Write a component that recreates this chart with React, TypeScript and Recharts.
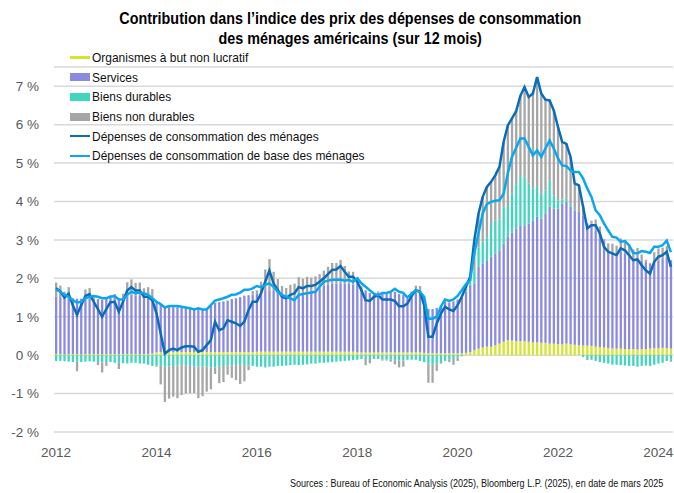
import React from 'react';
import { ComposedChart, Bar, Line, XAxis, YAxis, CartesianGrid } from 'recharts';

// monthly, Jan 2012 to Apr 2024
const years = ['2012', '2013', '2014', '2015', '2016', '2017', '2018', '2019', '2020', '2021', '2022', '2023', '2024'];
const yTicks = [-2, -1, 0, 1, 2, 3, 4, 5, 6, 7];

const npish = [
  0.03, 0.03, 0.02, 0.03, 0.03, 0.03, 0.02, 0.03, 0.03, 0.03, 0.03, 0.02,
  0.03, 0.03, 0.03, 0.02, 0.03, 0.03, 0.03, 0.03, 0.02, 0.03, 0.03, 0.04,
  0.07, 0.08, 0.08, 0.08, 0.08, 0.08, 0.08, 0.08, 0.08, 0.08, 0.08, 0.08,
  0.08, 0.08, 0.08, 0.08, 0.08, 0.08, 0.08, 0.08, 0.08, 0.08, 0.08, 0.08,
  0.09, 0.09, 0.09, 0.09, 0.09, 0.09, 0.09, 0.09, 0.09, 0.09, 0.09, 0.09,
  0.09, 0.09, 0.09, 0.09, 0.09, 0.09, 0.09, 0.09, 0.09, 0.09, 0.09, 0.09,
  0.07, 0.07, 0.07, 0.07, 0.07, 0.07, 0.07, 0.07, 0.07, 0.07, 0.07, 0.07,
  0.07, 0.07, 0.07, 0.07, 0.06, 0.05, 0.05, 0.05, 0.05, 0.05, 0.05, 0.05,
  0.05, 0.05, 0.06, 0.08, 0.13, 0.17, 0.2, 0.22, 0.22, 0.26, 0.3, 0.35,
  0.39, 0.38, 0.36, 0.36, 0.36, 0.35, 0.33, 0.33, 0.32, 0.32, 0.3, 0.3,
  0.29, 0.28, 0.3, 0.28, 0.27, 0.26, 0.25, 0.25, 0.24, 0.22, 0.21, 0.2,
  0.18, 0.17, 0.17, 0.17, 0.16, 0.16, 0.16, 0.15, 0.16, 0.16, 0.17, 0.18,
  0.18, 0.19, 0.18, 0.17,
];

const services = [
  1.5, 1.48, 1.47, 1.46, 1.45, 1.44, 1.45, 1.46, 1.45, 1.44, 1.43, 1.42,
  1.45, 1.47, 1.48, 1.46, 1.45, 1.5, 1.55, 1.53, 1.52, 1.52, 1.5, 1.45,
  1.32, 1.25, 1.18, 1.18, 1.17, 1.17, 1.16, 1.15, 1.14, 1.13, 1.13, 1.12,
  1.13, 1.2, 1.28, 1.3, 1.32, 1.34, 1.38, 1.4, 1.43, 1.47, 1.48, 1.5,
  1.52, 1.55, 1.58, 1.6, 1.6, 1.55, 1.5, 1.47, 1.45, 1.42, 1.5, 1.52,
  1.55, 1.57, 1.58, 1.65, 1.72, 1.75, 1.77, 1.78, 1.78, 1.76, 1.77, 1.75,
  1.78, 1.7, 1.62, 1.55, 1.5, 1.48, 1.52, 1.52, 1.55, 1.58, 1.52, 1.5,
  1.4, 1.48, 1.55, 1.52, 1.42, 1.15, 1.15, 1.18, 1.25, 1.35, 1.32, 1.35,
  1.4, 1.5, 1.6, 1.72, 1.73, 2.13, 2.19, 2.25, 2.34, 2.39, 2.43, 2.55,
  2.69, 2.82, 2.94, 3.02, 3.02, 3.08, 3.18, 3.27, 3.23, 3.37, 3.56, 3.52,
  3.53, 3.67, 3.69, 3.58, 3.5, 3.47, 3.39, 3.18, 3.19, 3.03, 2.96, 2.79,
  2.51, 2.48, 2.39, 2.52, 2.49, 2.4, 2.36, 2.35, 2.31, 2.27, 2.22, 2.29,
  2.29, 2.31, 2.38, 2.3,
];

const durables = [
  -0.15, -0.15, -0.16, -0.17, -0.18, -0.17, -0.18, -0.17, -0.16, -0.17, -0.18, -0.19,
  -0.18, -0.18, -0.2, -0.2, -0.21, -0.22, -0.2, -0.2, -0.22, -0.22, -0.25, -0.28,
  -0.28, -0.28, -0.3, -0.3, -0.28, -0.27, -0.26, -0.27, -0.28, -0.3, -0.3, -0.3,
  -0.3, -0.32, -0.32, -0.3, -0.28, -0.27, -0.27, -0.26, -0.25, -0.26, -0.27, -0.28,
  -0.3, -0.3, -0.32, -0.3, -0.3, -0.28, -0.28, -0.27, -0.26, -0.25, -0.26, -0.25,
  -0.24, -0.22, -0.22, -0.2, -0.2, -0.19, -0.18, -0.17, -0.16, -0.15, -0.14, -0.13,
  -0.12, -0.1, -0.1, -0.1, -0.1, -0.1, -0.11, -0.12, -0.12, -0.13, -0.14, -0.14,
  -0.12, -0.12, -0.12, -0.15, -0.18, -0.22, -0.25, -0.22, -0.2, -0.15, -0.12, -0.1,
  -0.06, -0.02, 0.05, 0.1, 0.35, 0.5, 0.56, 0.6, 0.88, 0.86, 0.8, 0.95,
  0.8, 1.0, 1.15, 1.28, 1.26, 1.04, 0.83, 0.78, 0.65, 0.6, 0.68, 0.34,
  0.21, 0.1, 0.08, 0.05, 0.03, 0.0, -0.05, -0.08, -0.12, -0.15, -0.18, -0.2,
  -0.22, -0.25, -0.25, -0.26, -0.27, -0.28, -0.28, -0.3, -0.28, -0.27, -0.28, -0.25,
  -0.22, -0.2, -0.15, -0.12,
];

const nonDurables = [
  0.36, 0.3, 0.16, 0.28, 0.0, -0.25, 0.0, 0.22, 0.27, 0.09, -0.08, -0.26,
  -0.1, 0.06, 0.08, -0.16, 0.12, 0.37, 0.39, 0.32, 0.35, 0.19, 0.24, 0.23,
  -0.02, -0.48, -0.92, -0.83, -0.8, -0.85, -0.78, -0.73, -0.71, -0.69, -0.82, -0.77,
  -0.65, -0.57, -0.17, -0.43, -0.42, -0.24, -0.32, -0.39, -0.5, -0.42, -0.12, 0.09,
  0.08, 0.27, 0.56, 0.81, 0.48, 0.34, 0.21, 0.19, 0.29, 0.35, 0.44, 0.38,
  0.4, 0.36, 0.38, 0.37, 0.39, 0.46, 0.54, 0.53, 0.61, 0.47, 0.32, 0.33,
  0.18, 0.02, -0.16, -0.11, 0.05, 0.11, -0.03, -0.02, -0.05, -0.11, -0.18, -0.16,
  -0.01, 0.11, 0.19, 0.21, 0.0, -0.5, -0.47, -0.19, -0.02, 0.01, -0.06, -0.15,
  -0.09, -0.01, 0.07, 0.14, 0.78, 0.89, 1.17, 1.31, 1.07, 1.17, 1.37, 1.7,
  2.1, 1.96, 1.9, 2.09, 2.34, 2.25, 2.47, 2.86, 2.61, 2.36, 2.09, 2.21,
  1.91, 1.5, 1.43, 1.25, 0.67, 0.69, 0.27, -0.05, 0.07, 0.28, 0.18, 0.03,
  0.22, 0.25, 0.29, 0.35, 0.35, 0.32, 0.23, 0.29, 0.15, 0.05, 0.01, 0.21,
  0.31, 0.3, 0.28, -0.05,
];

const pce = [
  1.74, 1.66, 1.5, 1.6, 1.3, 1.05, 1.3, 1.54, 1.59, 1.39, 1.2, 1.0,
  1.2, 1.38, 1.39, 1.13, 1.39, 1.68, 1.77, 1.68, 1.68, 1.52, 1.52, 1.43,
  1.09, 0.57, 0.04, 0.13, 0.17, 0.13, 0.2, 0.23, 0.23, 0.22, 0.09, 0.13,
  0.26, 0.39, 0.87, 0.65, 0.7, 0.91, 0.87, 0.83, 0.76, 0.87, 1.17, 1.39,
  1.39, 1.61, 1.91, 2.2, 1.87, 1.7, 1.52, 1.48, 1.57, 1.61, 1.77, 1.74,
  1.8, 1.8, 1.83, 1.91, 2.0, 2.11, 2.22, 2.23, 2.32, 2.17, 2.04, 2.04,
  1.91, 1.69, 1.43, 1.41, 1.52, 1.56, 1.45, 1.45, 1.45, 1.41, 1.27, 1.27,
  1.34, 1.54, 1.69, 1.65, 1.3, 0.48, 0.48, 0.82, 1.08, 1.26, 1.19, 1.15,
  1.3, 1.52, 1.78, 2.04, 2.99, 3.69, 4.12, 4.38, 4.51, 4.68, 4.9, 5.55,
  5.98, 6.16, 6.35, 6.75, 6.98, 6.72, 6.81, 7.24, 6.81, 6.65, 6.63, 6.37,
  5.94, 5.55, 5.5, 5.16, 4.47, 4.42, 3.86, 3.3, 3.38, 3.38, 3.17, 2.82,
  2.69, 2.65, 2.6, 2.78, 2.73, 2.6, 2.47, 2.49, 2.34, 2.21, 2.12, 2.43,
  2.56, 2.6, 2.69, 2.3,
];

const corePce = [
  1.71, 1.65, 1.57, 1.52, 1.43, 1.37, 1.39, 1.48, 1.52, 1.54, 1.52, 1.48,
  1.48, 1.52, 1.54, 1.45, 1.45, 1.57, 1.65, 1.61, 1.63, 1.61, 1.57, 1.48,
  1.39, 1.33, 1.24, 1.28, 1.28, 1.28, 1.26, 1.24, 1.22, 1.19, 1.22, 1.19,
  1.19, 1.3, 1.42, 1.45, 1.48, 1.52, 1.57, 1.58, 1.63, 1.7, 1.7, 1.74,
  1.8, 1.77, 1.83, 1.87, 1.78, 1.65, 1.57, 1.52, 1.48, 1.43, 1.57, 1.59,
  1.61, 1.63, 1.65, 1.78, 1.91, 1.94, 1.96, 1.96, 1.97, 1.94, 1.96, 1.91,
  2.0, 1.87, 1.78, 1.69, 1.6, 1.56, 1.62, 1.62, 1.65, 1.73, 1.65, 1.62,
  1.5, 1.6, 1.69, 1.65, 1.52, 0.95, 0.95, 1.0, 1.26, 1.45, 1.41, 1.45,
  1.54, 1.69, 1.85, 1.95, 2.65, 3.17, 3.69, 3.93, 3.99, 4.02, 4.03, 4.2,
  4.73, 5.16, 5.4, 5.64, 5.64, 5.42, 5.2, 5.33, 5.16, 5.38, 5.59, 5.38,
  5.12, 4.94, 4.92, 4.81, 4.77, 4.77, 4.6, 4.34, 4.12, 3.77, 3.64, 3.43,
  3.25, 3.08, 3.06, 2.95, 2.97, 2.86, 2.66, 2.65, 2.71, 2.69, 2.66, 2.82,
  2.82, 2.86, 2.98, 2.68,
];

const months = pce.map((_, i) => `${years[Math.floor(i / 12)]}-${(i % 12) + 1}`);

const data = months.map((month, i) => ({
  month,
  npish: npish[i],
  services: services[i],
  durables: durables[i],
  nonDurables: nonDurables[i],
  pce: pce[i],
  corePce: corePce[i],
}));

const legendItems = [
  { label: 'Organismes à but non lucratif', color: '#d3e52f', h: 3 },
  { label: 'Services', color: '#8a8ae0', h: 8 },
  { label: 'Biens durables', color: '#3fd6bd', h: 8 },
  { label: 'Biens non durables', color: '#a6a6a6', h: 8 },
  { label: 'Dépenses de consommation des ménages', color: '#0b6cb9', h: 2.5 },
  { label: 'Dépenses de consommation de base des ménages', color: '#0aa7ee', h: 2.5 },
];

const tickStyle = { fontSize: 13.5, fill: '#595959', fontFamily: 'Liberation Sans, Arial, sans-serif' };

const App: React.FC = () => (
  <div style={{ position: 'absolute', left: 0, top: 0, width: 674, height: 493, background: '#fff', overflow: 'hidden' }}>
    <div
      style={{
        position: 'absolute', left: 0, top: 8, width: 700, textAlign: 'center',
        fontFamily: 'Liberation Sans, Arial, sans-serif',
        fontWeight: 'bold', fontSize: 16.5, lineHeight: '20px', color: '#000',
        transform: 'scaleX(0.87)', transformOrigin: '352px 0',
      }}
    >
      Contribution dans l’indice des prix des dépenses de consommation
      <br />
      des ménages américains (sur 12 mois)
    </div>
    <ComposedChart
      width={674}
      height={493}
      data={data}
      stackOffset="sign"
      margin={{ top: 67, right: 1, bottom: 31, left: 0 }}
    >
      <CartesianGrid vertical={false} stroke="#d9d9d9" strokeWidth={1.5} />
      <XAxis
        dataKey="month"
        interval={23}
        tickLine={false}
        axisLine={false}
        height={30}
        tickMargin={9}
        tick={tickStyle}
        tickFormatter={(m: string) => m.slice(0, 4)}
      />
      <YAxis
        domain={[-2, 7.5]}
        ticks={yTicks}
        width={54}
        tickLine={false}
        axisLine={false}
        tickMargin={9}
        tick={tickStyle}
        tickFormatter={(v: number) => `${v} %`}
      />
      <Bar dataKey="npish" stackId="c" fill="#d3e52f" barSize={2.3} isAnimationActive={false} />
      <Bar dataKey="services" stackId="c" fill="#8a8ae0" barSize={2.3} isAnimationActive={false} />
      <Bar dataKey="durables" stackId="c" fill="#3fd6bd" barSize={2.3} isAnimationActive={false} />
      <Bar dataKey="nonDurables" stackId="c" fill="#a6a6a6" barSize={2.3} isAnimationActive={false} />
      <Line type="linear" dataKey="pce" stroke="#0b6cb9" strokeWidth={2.5} dot={false} isAnimationActive={false} />
      <Line type="linear" dataKey="corePce" stroke="#0aa7ee" strokeWidth={2.5} dot={false} isAnimationActive={false} />
    </ComposedChart>
    <div style={{ position: 'absolute', left: 70, top: 48, fontFamily: 'Liberation Sans, Arial, sans-serif', fontSize: 13, color: '#111' }}>
      {legendItems.map((item) => (
        <div key={item.label} style={{ display: 'flex', alignItems: 'center', height: 19.6 }}>
          <span style={{ display: 'inline-block', width: 20, height: item.h, background: item.color, marginRight: 2 }} />
          <span style={{ display: 'inline-block', transform: 'scaleX(0.92)', transformOrigin: '0 50%', whiteSpace: 'nowrap' }}>
            {item.label}
          </span>
        </div>
      ))}
    </div>
    <div
      style={{
        position: 'absolute', left: 290, top: 477, whiteSpace: 'nowrap',
        fontFamily: 'Liberation Sans, Arial, sans-serif',
        fontSize: 11, color: '#111',
        transform: 'scaleX(0.82)', transformOrigin: '0 0',
      }}
    >
      Sources : Bureau of Economic Analysis (2025), Bloomberg L.P. (2025), en date de mars 2025
    </div>
  </div>
);

export default App;
